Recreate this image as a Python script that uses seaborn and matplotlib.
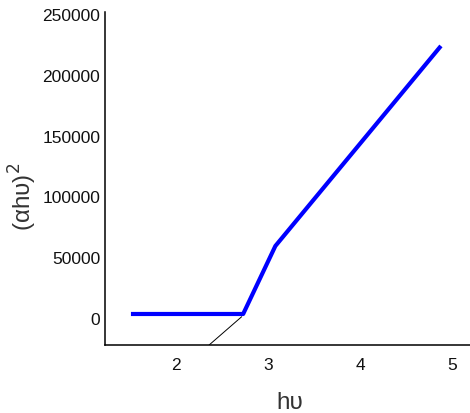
import matplotlib
matplotlib.use("Agg")
import matplotlib.pyplot as plt
import seaborn as sns
import pandas as pd

# Data
hv = [1.51, 2.73, 3.08, 4.88]
ahv2 = [3300, 3300, 59200, 223700]
tangent_hv = [2.36, 2.714]
tangent_val = [-22200, 1070]

xticks = [2, 3, 4, 5]
yticks = [0, 50000, 100000, 150000, 200000, 250000]

sns.set_style("white")
plt.rcParams['font.family'] = ['Liberation Sans', 'DejaVu Sans']

fig = plt.figure(figsize=(4.70, 4.14), dpi=100)
ax = fig.add_axes([105/470, 1 - 346/414, 365/470, 333/414])

df = pd.DataFrame({"hv": hv, "val": ahv2})
dt = pd.DataFrame({"hv": tangent_hv, "val": tangent_val})

sns.lineplot(data=dt, x="hv", y="val", ax=ax, sort=False, color="black",
             linewidth=0.7, estimator=None)
sns.lineplot(data=df, x="hv", y="val", ax=ax, sort=False, color="#0000ff",
             linewidth=3.0, estimator=None, solid_capstyle="butt")

ax.set_xlim(1.228, 5.196)
ax.set_ylim(-22200, 251600)
ax.set_xticks(xticks)
ax.set_xticklabels([str(t) for t in xticks])
ax.set_yticks(yticks)
ax.set_yticklabels([str(t) for t in yticks])
ax.tick_params(axis="x", length=0, pad=9, labelsize=12.5, labelcolor="#111111")
ax.tick_params(axis="y", length=0, pad=3.5, labelsize=12.5, labelcolor="#111111")

sns.despine(ax=ax)
for s in ["left", "bottom"]:
    ax.spines[s].set_color("black")
    ax.spines[s].set_linewidth(1.1)

ax.set_xlabel("hυ", fontsize=17.5, color="#333333", va="top")
ax.xaxis.set_label_coords(0.505, -0.138)
ax.set_ylabel("(αhυ)$^{2}$", fontsize=17.5, color="#333333")
ax.yaxis.set_label_coords(-0.18, 0.447)

fig.savefig("out.png", dpi=100)
